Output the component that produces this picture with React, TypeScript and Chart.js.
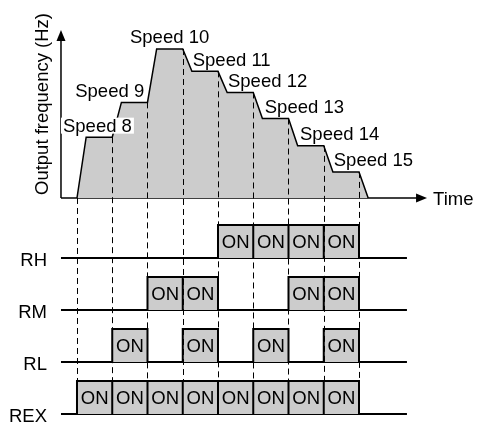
import React, { useEffect, useRef } from "react";
import { Chart, registerables } from "chart.js";

Chart.register(...registerables);

// ---------------- data ----------------
const SPEED_LABELS = ["Speed 8", "Speed 9", "Speed 10", "Speed 11", "Speed 12", "Speed 13", "Speed 14", "Speed 15"];
const SPEED_HZ = [24.5, 38.5, 60, 51, 42.5, 32, 21, 10.5];

const SIGNAL_NAMES = ["RH", "RM", "RL", "REX"];
const RH = [0, 0, 0, 0, 1, 1, 1, 1];
const RM = [0, 0, 1, 1, 0, 0, 1, 1];
const RL = [0, 1, 0, 1, 0, 1, 0, 1];
const REX = [1, 1, 1, 1, 1, 1, 1, 1];
const SIGNAL_STATES = [RH, RM, RL, REX];
const SIGNAL_ROW = [3, 2, 1, 0];

const ON_TEXT = "ON";
const Y_TITLE = "Output frequency (Hz)";
const X_TITLE = "Time";

// ---------------- layout / style ----------------
const X_MIN = -2.184;
const X_MAX = 11.404;
const YF_MIN = -90.2;
const YF_MAX = 79.73;
const YL_MIN = -0.154;
const YL_MAX = 7.962;
const RAMP = 0.26;
const AXIS_X = -0.454;
const X_ARROW_TIP = 9.93;
const Y_ARROW_TIP = 67.65;
const SIG_END = 9.36;
const PULSE_H = 0.635;
const GRAY = "#cccccc";
const FONT = "18.5px 'Liberation Sans', Arial, sans-serif";
const ARROW_LEN = 11;
const ARROW_HALF = 4.5;
const LABEL_DX = [-14, -37, -17.5, 10, 10, 11.5, 11.5, 10];

function profilePoints() {
  const pts: { x: number; y: number }[] = [{ x: 0, y: 0 }];
  SPEED_HZ.forEach((f, i) => {
    pts.push({ x: i + RAMP, y: f });
    pts.push({ x: i + 1, y: f });
  });
  pts.push({ x: SPEED_HZ.length + RAMP, y: 0 });
  return pts;
}

function pulsePoints(states: number[], base: number) {
  const pts: { x: number; y: number | null }[] = [];
  states.forEach((s, i) => {
    if (!s) return;
    pts.push({ x: i, y: base });
    pts.push({ x: i, y: base + PULSE_H });
    pts.push({ x: i + 1, y: base + PULSE_H });
    pts.push({ x: i + 1, y: base });
    pts.push({ x: i + 1, y: null });
  });
  return pts;
}

const overlay = {
  id: "overlay",
  afterDatasetsDraw(chart: any) {
    const { ctx } = chart;
    const x = chart.scales.x;
    const yF = chart.scales.yF;
    const yL = chart.scales.yL;
    ctx.save();
    ctx.setLineDash([6, 4]);
    ctx.lineWidth = 1;
    ctx.strokeStyle = "#000";
    const yEnd = yL.getPixelForValue(SIGNAL_ROW[3] + PULSE_H);
    for (let i = 0; i <= SPEED_HZ.length; i++) {
      const px = Math.round(x.getPixelForValue(i)) + 0.5;
      const f = i === 0 ? 0 : SPEED_HZ[i - 1];
      ctx.beginPath();
      ctx.moveTo(px, yF.getPixelForValue(f));
      ctx.lineTo(px, yEnd);
      ctx.stroke();
    }
    ctx.setLineDash([]);
    ctx.fillStyle = "#000";
    const ox = x.getPixelForValue(AXIS_X);
    const oy = yF.getPixelForValue(0);
    const tipY = yF.getPixelForValue(Y_ARROW_TIP);
    ctx.beginPath();
    ctx.moveTo(ox, tipY);
    ctx.lineTo(ox - ARROW_HALF, tipY + ARROW_LEN);
    ctx.lineTo(ox + ARROW_HALF, tipY + ARROW_LEN);
    ctx.closePath();
    ctx.fill();
    const tipX = x.getPixelForValue(X_ARROW_TIP);
    ctx.beginPath();
    ctx.moveTo(tipX, oy);
    ctx.lineTo(tipX - ARROW_LEN, oy - ARROW_HALF);
    ctx.lineTo(tipX - ARROW_LEN, oy + ARROW_HALF);
    ctx.closePath();
    ctx.fill();
    ctx.restore();
  },
  afterDraw(chart: any) {
    const { ctx } = chart;
    const x = chart.scales.x;
    const yF = chart.scales.yF;
    const yL = chart.scales.yL;
    ctx.save();
    ctx.font = FONT;
    ctx.fillStyle = "#000";
    SPEED_LABELS.forEach((lab, i) => {
      const left = x.getPixelForValue(i) + LABEL_DX[i];
      const base = yF.getPixelForValue(SPEED_HZ[i]) - 5.5;
      ctx.textAlign = "left";
      ctx.textBaseline = "alphabetic";
      if (i === 0) {
        const w = ctx.measureText(lab).width;
        ctx.fillStyle = "#fff";
        ctx.fillRect(left - 2, base - 14, w + 4, 16);
        ctx.fillStyle = "#000";
      }
      ctx.fillText(lab, left, base);
    });
    ctx.textAlign = "center";
    ctx.textBaseline = "middle";
    SIGNAL_STATES.forEach((states, r) => {
      const cy = yL.getPixelForValue(SIGNAL_ROW[r] + PULSE_H / 2) + 1;
      states.forEach((s, i) => {
        if (!s) return;
        ctx.fillText(ON_TEXT, x.getPixelForValue(i + 0.5), cy);
      });
    });
    const ox = x.getPixelForValue(AXIS_X);
    ctx.textAlign = "right";
    ctx.textBaseline = "alphabetic";
    SIGNAL_NAMES.forEach((n, r) => {
      ctx.fillText(n, ox - 14, yL.getPixelForValue(SIGNAL_ROW[r]) + 8);
    });
    const oy = yF.getPixelForValue(0);
    ctx.textAlign = "left";
    ctx.textBaseline = "middle";
    ctx.fillText(X_TITLE, x.getPixelForValue(X_ARROW_TIP) + 6, oy + 2);
    const tipY = yF.getPixelForValue(Y_ARROW_TIP);
    ctx.translate(ox - 18, (oy + tipY) / 2 - 10);
    ctx.rotate(-Math.PI / 2);
    ctx.textAlign = "center";
    ctx.textBaseline = "middle";
    ctx.fillText(Y_TITLE, 0, 0);
    ctx.restore();
  },
};

export default function App() {
  const ref = useRef<HTMLCanvasElement | null>(null);
  useEffect(() => {
    if (!ref.current) return;
    const datasets: any[] = [];
    SIGNAL_STATES.forEach((states, r) => {
      datasets.push({
        type: "line",
        yAxisID: "yL",
        data: pulsePoints(states, SIGNAL_ROW[r]),
        borderColor: "#000",
        borderWidth: 2,
        backgroundColor: GRAY,
        fill: { value: SIGNAL_ROW[r] },
        pointRadius: 0,
        spanGaps: false,
        tension: 0,
      });
    });
    SIGNAL_ROW.forEach((b) => {
      datasets.push({
        type: "line",
        yAxisID: "yL",
        data: [
          { x: AXIS_X, y: b },
          { x: SIG_END, y: b },
        ],
        borderColor: "#000",
        borderWidth: 2,
        pointRadius: 0,
        fill: false,
      });
    });
    datasets.push({
      type: "line",
      yAxisID: "yF",
      data: profilePoints(),
      borderColor: "#000",
      borderWidth: 1.5,
      backgroundColor: GRAY,
      fill: "origin",
      pointRadius: 0,
      tension: 0,
    });
    datasets.push({
      type: "line",
      yAxisID: "yF",
      data: [
        { x: AXIS_X, y: 0 },
        { x: X_ARROW_TIP - 0.2, y: 0 },
      ],
      borderColor: "#000",
      borderWidth: 1.5,
      pointRadius: 0,
      fill: false,
    });
    datasets.push({
      type: "line",
      yAxisID: "yF",
      data: [
        { x: AXIS_X, y: 0 },
        { x: AXIS_X, y: Y_ARROW_TIP - 3 },
      ],
      borderColor: "#000",
      borderWidth: 1.5,
      pointRadius: 0,
      fill: false,
    });

    const chart = new Chart(ref.current, {
      type: "line",
      data: { datasets },
      options: {
        animation: false,
        responsive: false,
        maintainAspectRatio: false,
        devicePixelRatio: 1,
        layout: { padding: 0 },
        plugins: { legend: { display: false }, tooltip: { enabled: false } },
        events: [],
        scales: {
          x: { type: "linear", min: X_MIN, max: X_MAX, display: false },
          yF: { type: "linear", min: YF_MIN, max: YF_MAX, display: false },
          yL: { type: "linear", min: YL_MIN, max: YL_MAX, display: false },
        },
      },
      plugins: [overlay],
    } as any);
    return () => chart.destroy();
  }, []);
  return (
    <div style={{ position: "absolute", left: 0, top: 0, width: 479, height: 422, background: "#fff" }}>
      <canvas ref={ref} width={479} height={422} style={{ display: "block" }} />
    </div>
  );
}
